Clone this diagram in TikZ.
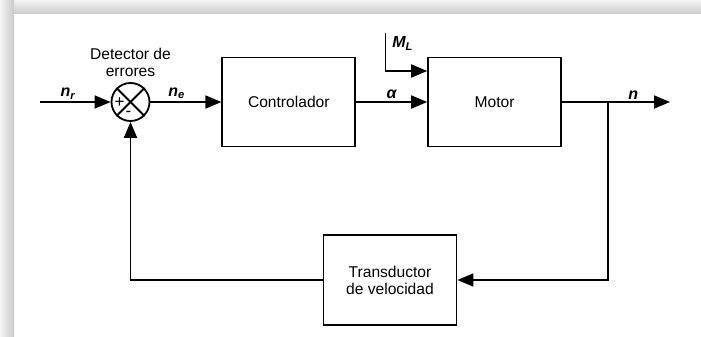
\documentclass[tikz,border=0pt]{standalone}
\usepackage{fontspec}
\setmainfont{Liberation Sans}
\usetikzlibrary{arrows.meta, positioning, calc}

\begin{document}
\begin{tikzpicture}[
    x=1pt, y=-1pt,
    font=\fontsize{15.6}{17}\selectfont,
    node distance=71pt,
    box/.style={draw, rectangle, line width=1.8pt, minimum height=89pt,
      minimum width=133pt, align=center, inner sep=0pt},
    sumnode/.style={draw, circle, line width=1.8pt, minimum size=38pt,
      inner sep=0pt},
    sig/.style={font=\fontsize{16}{18}\selectfont\bfseries\itshape,
      inner sep=2pt},
    sign/.style={font=\fontsize{17}{17}\selectfont, inner sep=0pt},
    line/.style={line width=1.8pt},
    arrow/.style={line width=1.8pt, -{Triangle[length=16pt,width=13pt]}}
]
% frame shadow
\useasboundingbox (0,0) rectangle (701,337);
\shade[top color=gray!8, bottom color=gray!42] (0,0) rectangle (701,14);
\shade[left color=gray!8, right color=gray!42] (0,0) rectangle (14,337);

\node[sumnode] (sum) at (130.5,102) {};
\draw[line] (sum.north west) -- (sum.south east)
            (sum.north east) -- (sum.south west);
\node[sign] (plus) at ($(sum.center)+(-11,1)$) {+};
\node[sign] (minus) at ($(sum.center)+(-2,12)$) {-};
\node[align=center] (detector) at (130.5,62) {Detector de\\errores};

\node[box, right=of sum] (ctrl) {Controlador};
\node[box, right=of ctrl] (motor) {Motor};
\node[box, minimum height=90pt] (trans) at (390,280) {Transductor\\de velocidad};

\coordinate[left=of sum] (in);
\coordinate[right=108pt of motor] (out);
\coordinate[right=46pt of motor] (split);
\coordinate (load) at (385.5,33);

\draw[arrow] (in) -- node[pos=0.4, above, sig] {n\textsubscript{r}} (sum);
\draw[arrow] (sum) -- node[pos=0.37, above, sig] {n\textsubscript{e}} (ctrl);
\draw[arrow] (ctrl) -- node[above, sig] {α} (motor);
\draw[arrow] (load) node[sig, anchor=north west, inner sep=0pt, xshift=6pt, yshift=-3pt] (ml) {M\textsubscript{L}}
  |- ([yshift=31pt]motor.west);
\draw[arrow] (motor) -- node[pos=0.66, above, sig] {n} (out);
\draw[arrow] (split) |- (trans);
\draw[arrow] (trans) -| (sum);
\end{tikzpicture}
\end{document}
